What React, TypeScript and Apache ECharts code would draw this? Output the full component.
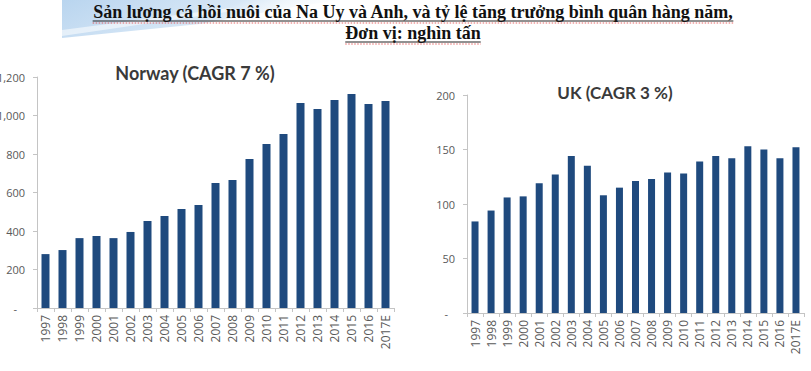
import React, { useEffect, useRef } from "react";
import * as echarts from "echarts";

const years = [
  "1997", "1998", "1999", "2000", "2001", "2002", "2003", "2004", "2005", "2006",
  "2007", "2008", "2009", "2010", "2011", "2012", "2013", "2014", "2015", "2016", "2017E",
];
const norwayValues = [280, 301, 363, 374, 363, 395, 452, 478, 514, 535, 649, 665, 774, 852, 904, 1065, 1034, 1081, 1112, 1060, 1075];
const ukValues = [84, 94, 106, 107, 119, 127, 144, 135, 108, 115, 121, 123, 129, 128, 139, 144, 142, 153, 150, 142, 152];

const norwayAxisMax = 1200;
const norwayAxisStep = 200;
const ukAxisMax = 200;
const ukAxisStep = 50;

const mainTitle = [
  "Sản lượng cá hồi nuôi của Na Uy và Anh, và tỷ lệ tăng trưởng bình quân hàng năm,",
  "Đơn vị: nghìn tấn",
];
const norwayTitle = "Norway (CAGR 7 %)";
const ukTitle = "UK (CAGR 3 %)";

const BAR = "#1f4a7e";
const AXIS = "#c4c4c4";
const LABEL = "#595959";

function measure(text: string, font: string): number {
  const c = document.createElement("canvas").getContext("2d");
  if (!c) return text.length * 8;
  c.font = font;
  return c.measureText(text).width;
}

export default function App() {
  const ref = useRef<HTMLDivElement>(null);
  useEffect(() => {
    document.body.style.margin = "0";
    if (!ref.current) return;
    const chart = echarts.init(ref.current, undefined, { renderer: "svg" });

    const titleFont = "bold 18px 'Liberation Serif'";
    const titleY = [12, 33];
    const titleCx = 413;
    const titleGraphics: any[] = [];
    mainTitle.forEach((t, i) => {
      const w = measure(t, titleFont);
      const x0 = titleCx - w / 2;
      titleGraphics.push({
        type: "text",
        x: titleCx,
        y: titleY[i],
        style: {
          text: t,
          fill: "#111",
          font: titleFont,
          align: "center",
          verticalAlign: "middle",
        },
        z: 10,
      });
      titleGraphics.push({
        type: "line",
        shape: { x1: x0, y1: titleY[i] + 9, x2: x0 + w, y2: titleY[i] + 9 },
        style: { stroke: "#222", lineWidth: 1 },
        z: 10,
      });
      titleGraphics.push({
        type: "line",
        shape: { x1: x0, y1: titleY[i] + 11, x2: x0 + w, y2: titleY[i] + 11 },
        style: { stroke: "#e04040", lineWidth: 1, lineDash: [1.5, 1.5], opacity: 0.8 },
        z: 10,
      });
    });

    const yLabel = (color: string, pad: number) => ({
      color,
      fontSize: 11,
      fontFamily: "Open Sans",
      margin: 12,
      formatter: (v: number) => (v === 0 ? "{z|-}" : v.toLocaleString("en-US")),
      rich: {
        z: { color, fontSize: 11, fontFamily: "Open Sans", padding: [0, pad, 0, 0] },
      },
    });

    const xAxisCommon = {
      type: "category" as const,
      data: years,
      axisLine: { lineStyle: { color: AXIS } },
      axisTick: { show: true, length: 4, lineStyle: { color: AXIS } },
      axisLabel: {
        rotate: 90,
        color: LABEL,
        fontSize: 12,
        fontFamily: "Open Sans",
        margin: 7,
        interval: 0,
      },
    };
    const yAxisCommon = {
      type: "value" as const,
      min: 0,
      splitLine: { show: false },
      axisLine: { show: true, lineStyle: { color: AXIS } },
      axisTick: { show: true, length: 4, lineStyle: { color: AXIS } },
    };

    chart.setOption({
      animation: false,
      backgroundColor: "#ffffff",
      title: [
        {
          text: norwayTitle,
          left: 190,
          top: 68,
          textAlign: "center",
          textVerticalAlign: "middle",
          textStyle: { fontFamily: "Lato", fontWeight: "bold", fontSize: 18, color: "#3a3a3a" },
        },
        {
          text: ukTitle,
          left: 610,
          top: 87,
          textAlign: "center",
          textVerticalAlign: "middle",
          textStyle: { fontFamily: "Lato", fontWeight: "bold", fontSize: 17, color: "#3a3a3a" },
        },
      ],
      grid: [
        { left: 37, top: 77, width: 357, height: 231, containLabel: false, outerBoundsMode: "none" },
        { left: 467, top: 95, width: 337, height: 218, containLabel: false, outerBoundsMode: "none" },
      ],
      xAxis: [
        { ...xAxisCommon, gridIndex: 0 },
        { ...xAxisCommon, gridIndex: 1 },
      ],
      yAxis: [
        { ...yAxisCommon, gridIndex: 0, max: norwayAxisMax, interval: norwayAxisStep, axisLabel: yLabel(LABEL, 8) },
        { ...yAxisCommon, gridIndex: 1, max: ukAxisMax, interval: ukAxisStep, axisLabel: yLabel(LABEL, 7) },
      ],
      series: [
        { type: "bar", xAxisIndex: 0, yAxisIndex: 0, data: norwayValues, barWidth: 8, itemStyle: { color: BAR } },
        { type: "bar", xAxisIndex: 1, yAxisIndex: 1, data: ukValues, barWidth: 7, itemStyle: { color: BAR } },
      ],
      graphic: [
        {
          type: "polygon",
          shape: { points: [[62, 0], [340, 0], [300, 6], [200, 24], [62, 38]] },
          style: {
            fill: {
              type: "linear",
              x: 0, y: 0, x2: 1, y2: 0.3,
              colorStops: [
                { offset: 0, color: "#b9d5ef" },
                { offset: 0.6, color: "#d7e7f6" },
                { offset: 1, color: "rgba(255,255,255,0)" },
              ],
            },
          },
          z: 1,
        },
        {
          type: "polygon",
          shape: { points: [[62, 30], [230, 8], [240, 10], [62, 36]] },
          style: { fill: "rgba(255,255,255,0.55)" },
          z: 2,
        },
        ...titleGraphics,
      ],
    });
    return () => chart.dispose();
  }, []);
  return <div ref={ref} style={{ width: 811, height: 371 }} />;
}
